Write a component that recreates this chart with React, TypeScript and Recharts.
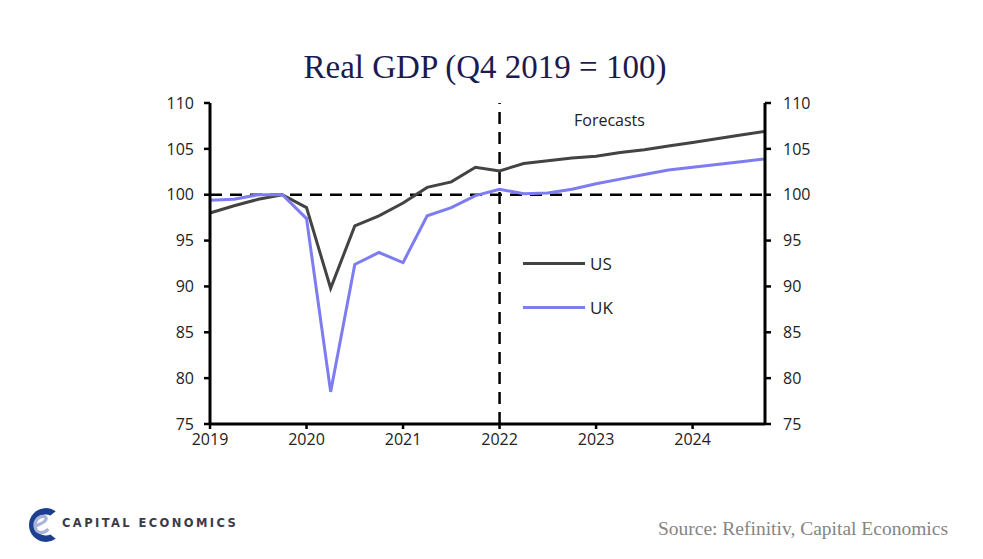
import {
  Line,
  LineChart,
  ReferenceLine,
  XAxis,
  YAxis,
} from "recharts";

const QUARTERS = [
  "2019Q1", "2019Q2", "2019Q3", "2019Q4",
  "2020Q1", "2020Q2", "2020Q3", "2020Q4",
  "2021Q1", "2021Q2", "2021Q3", "2021Q4",
  "2022Q1", "2022Q2", "2022Q3", "2022Q4",
  "2023Q1", "2023Q2", "2023Q3", "2023Q4",
  "2024Q1", "2024Q2", "2024Q3", "2024Q4",
];

const US = [
  98.0, 98.8, 99.5, 100.0,
  98.6, 89.8, 96.6, 97.7,
  99.1, 100.8, 101.4, 103.0,
  102.6, 103.4, 103.7, 104.0,
  104.2, 104.6, 104.9, 105.3,
  105.7, 106.1, 106.5, 106.9,
];

const UK = [
  99.4, 99.5, 100.0, 100.0,
  97.4, 78.5, 92.4, 93.7,
  92.6, 97.7, 98.6, 99.9,
  100.6, 100.1, 100.2, 100.6,
  101.2, 101.7, 102.2, 102.7,
  103.0, 103.3, 103.6, 103.9,
];

const YEAR_TICKS = [0, 4, 8, 12, 16, 20];
const YEAR_LABELS = ["2019", "2020", "2021", "2022", "2023", "2024"];
const Y_TICKS = [75, 80, 85, 90, 95, 100, 105, 110];

const US_COLOR = "#434343";
const UK_COLOR = "#7d7cf0";
const FORECAST_START = 12;

const rows = QUARTERS.map((q, i) => ({ q, t: i, us: US[i], uk: UK[i] }));

const tickFont = {
  fill: "#222",
  fontSize: 16,
  fontFamily: "'Open Sans', sans-serif",
};

const axisStroke = { stroke: "#000", strokeWidth: 3 };
const tickStroke = { stroke: "#000", strokeWidth: 2.5 };

function SeriesKey() {
  const items = [
    { label: "US", color: US_COLOR },
    { label: "UK", color: UK_COLOR },
  ];
  return (
    <div style={{ fontFamily: "'Open Sans', sans-serif", fontSize: 17, color: "#222" }}>
      {items.map((it) => (
        <div
          key={it.label}
          style={{ display: "flex", alignItems: "center", height: 44 }}
        >
          <span
            style={{
              display: "inline-block",
              width: 62,
              borderTop: `3px solid ${it.color}`,
              marginRight: 5,
            }}
          />
          {it.label}
        </div>
      ))}
    </div>
  );
}

function Logo() {
  return (
    <svg width={38} height={42} viewBox="0 0 36 38">
      <path
        d="M31 6 A16 16 0 1 0 31 32 L26 28 A10 10 0 1 1 26 10 Z"
        fill="#1d3f8f"
      />
      <path
        d="M12 20 C16 18 22 16 22 13 C22 10 16 10 13 14 C10 18 11 25 16 26 C19 27 22 25 24 23"
        fill="none"
        stroke="#a9b4dc"
        strokeWidth={3}
      />
    </svg>
  );
}

export default function App() {
  return (
    <div
      style={{
        position: "absolute",
        left: 0,
        top: 0,
        width: 983,
        height: 559,
        background: "#fff",
        overflow: "hidden",
      }}
    >
      <div
        style={{
          position: "absolute",
          left: 0,
          width: 970,
          top: 49,
          textAlign: "center",
          fontFamily: "'Liberation Serif', serif",
          fontSize: 33,
          color: "#1b1b4d",
        }}
      >
        Real GDP (Q4 2019 = 100)
      </div>

      <LineChart
        width={983}
        height={559}
        data={rows}
        margin={{ top: 103, right: 158, bottom: 105, left: 150 }}
      >
        <XAxis
          dataKey="t"
          type="number"
          domain={[0, 23]}
          ticks={YEAR_TICKS}
          tickFormatter={(v) => YEAR_LABELS[YEAR_TICKS.indexOf(v)] ?? ""}
          interval={0}
          height={30}
          tick={tickFont}
          axisLine={axisStroke}
          tickLine={tickStroke}
          tickSize={5}
          tickMargin={5}
        />
        <YAxis
          yAxisId="left"
          orientation="left"
          domain={[75, 110]}
          ticks={Y_TICKS}
          interval={0}
          width={60}
          tick={tickFont}
          axisLine={axisStroke}
          tickLine={tickStroke}
          tickSize={6}
          tickMargin={10}
        />
        <YAxis
          yAxisId="right"
          orientation="right"
          domain={[75, 110]}
          ticks={Y_TICKS}
          interval={0}
          width={60}
          tick={{ ...tickFont, textAnchor: "start" }}
          axisLine={axisStroke}
          tickLine={tickStroke}
          tickSize={6}
          tickMargin={12}
        />
        <ReferenceLine
          yAxisId="left"
          y={100}
          stroke="#000"
          strokeWidth={2.5}
          strokeDasharray="12 8"
        />
        <ReferenceLine
          yAxisId="left"
          x={FORECAST_START}
          stroke="#000"
          strokeWidth={2.5}
          strokeDasharray="12 8"
        />
        <Line
          yAxisId="left"
          dataKey="us"
          name="US"
          type="linear"
          stroke={US_COLOR}
          strokeWidth={3}
          dot={false}
          isAnimationActive={false}
        />
        <Line
          yAxisId="right"
          dataKey="uk"
          name="UK"
          type="linear"
          stroke={UK_COLOR}
          strokeWidth={3}
          dot={false}
          isAnimationActive={false}
        />
      </LineChart>

      <div style={{ position: "absolute", left: 523, top: 241, width: 120 }}>
        <SeriesKey />
      </div>

      <div
        style={{
          position: "absolute",
          left: 574,
          top: 109,
          fontFamily: "'Open Sans', sans-serif",
          fontSize: 16,
          color: "#222",
        }}
      >
        Forecasts
      </div>

      <div style={{ position: "absolute", left: 23, top: 504 }}>
        <Logo />
      </div>
      <div
        style={{
          position: "absolute",
          left: 62,
          top: 516,
          fontFamily: "'DejaVu Sans', sans-serif",
          fontWeight: "bold",
          fontSize: 11.5,
          letterSpacing: 2.4,
          color: "#3b3b48",
        }}
      >
        CAPITAL ECONOMICS
      </div>
      <div
        style={{
          position: "absolute",
          right: 35,
          top: 518,
          fontFamily: "'Liberation Serif', serif",
          fontSize: 19.5,
          color: "#858585",
        }}
      >
        Source: Refinitiv, Capital Economics
      </div>
    </div>
  );
}
